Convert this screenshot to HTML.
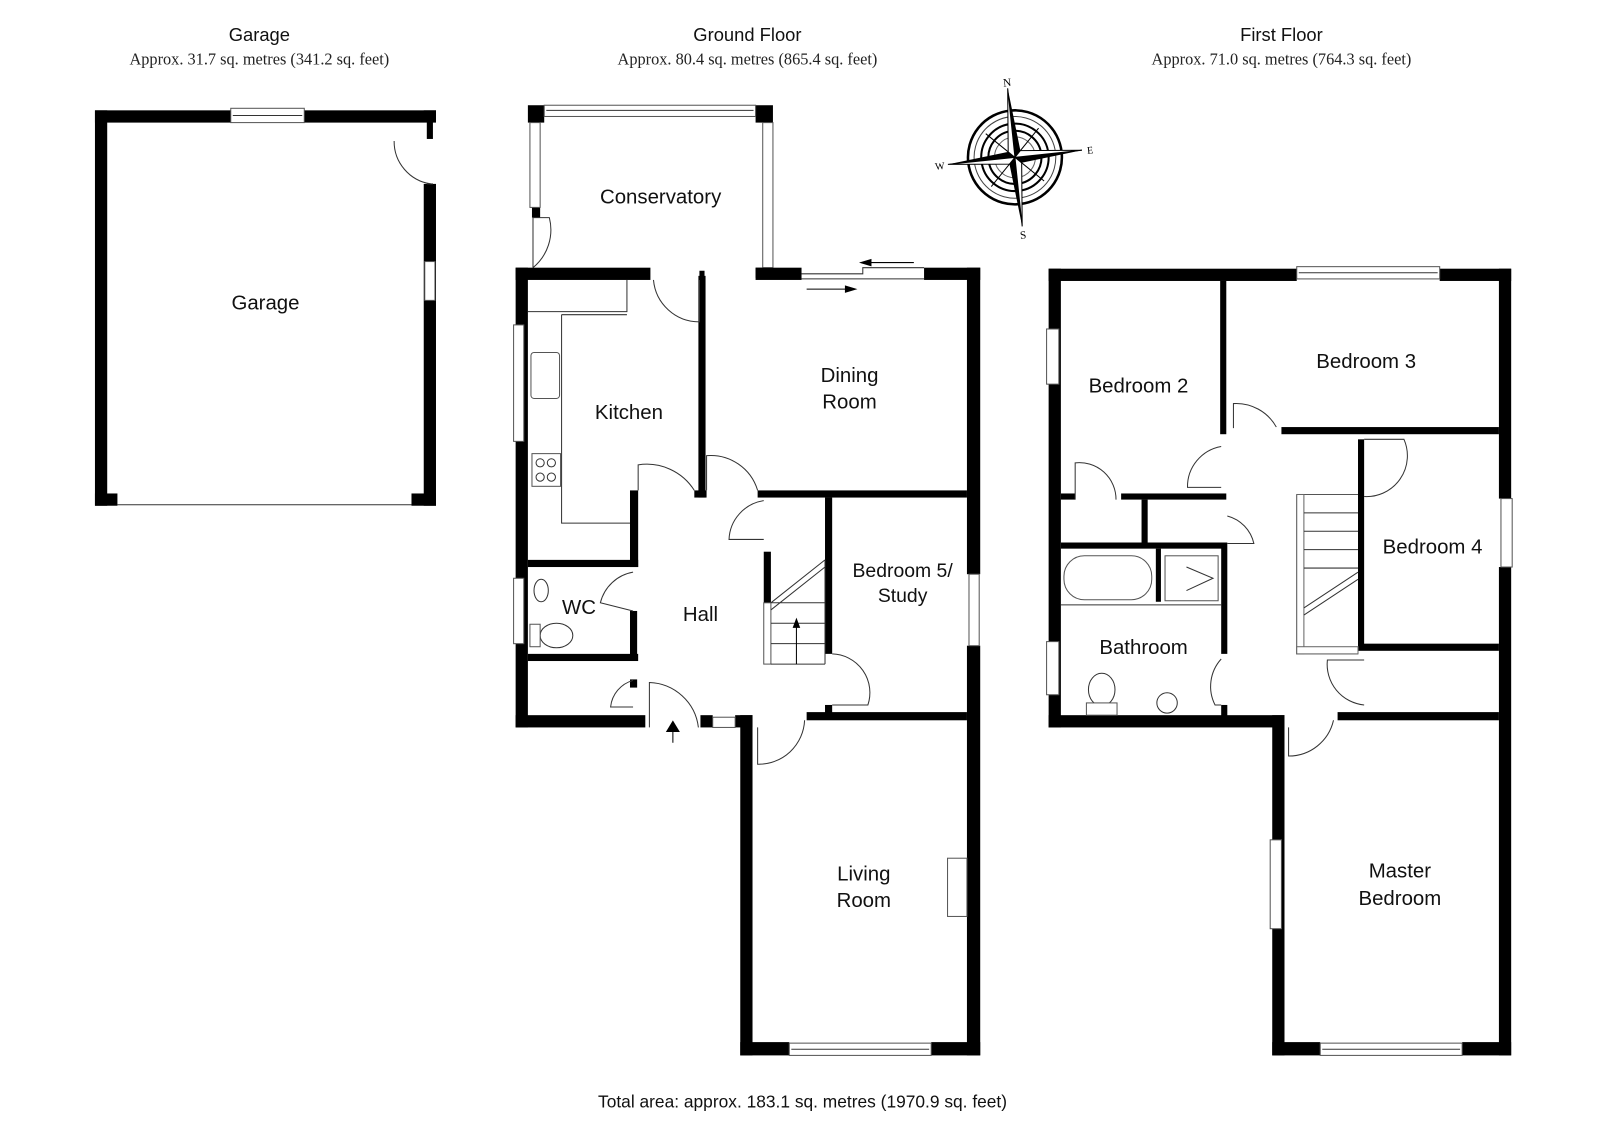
<!DOCTYPE html>
<html><head><meta charset="utf-8"><style>
html,body{margin:0;padding:0;background:#fff;width:1600px;height:1131px;overflow:hidden}
svg{display:block}
.t{font-family:"Liberation Sans",sans-serif;font-size:20px;fill:#111;text-anchor:middle}
.s{font-family:"Liberation Serif",serif;font-size:16px;fill:#222;text-anchor:middle}
.w{fill:#000}
.ln{fill:none;stroke:#333;stroke-width:1}
.win{fill:#fff;stroke:#555;stroke-width:1}
</style></head><body>
<svg width="1600" height="1131" viewBox="0 0 1567 1107" preserveAspectRatio="none" xmlns="http://www.w3.org/2000/svg">
<rect width="1567" height="1107" fill="#fff"/>
<text class="t" x="254" y="40" style="font-size:18px">Garage</text>
<text class="s" x="254" y="63">Approx. 31.7 sq. metres (341.2 sq. feet)</text>
<text class="t" x="732" y="40" style="font-size:18px">Ground Floor</text>
<text class="s" x="732" y="63">Approx. 80.4 sq. metres (865.4 sq. feet)</text>
<text class="t" x="1255" y="40" style="font-size:18px">First Floor</text>
<text class="s" x="1255" y="63">Approx. 71.0 sq. metres (764.3 sq. feet)</text>
<text class="t" x="786" y="1084" style="font-size:17px">Total area: approx. 183.1 sq. metres (1970.9 sq. feet)</text>

<!-- GARAGE -->
<g class="w">
<rect x="93" y="108" width="334" height="12"/>
<rect x="93" y="108" width="12" height="387"/>
<rect x="415" y="108" width="12" height="8"/>
<rect x="418" y="116" width="6" height="20"/>
<rect x="415" y="180" width="12" height="315"/>
<rect x="403" y="483" width="24" height="12"/>
<rect x="93" y="483" width="22" height="12"/>
</g>
<rect class="win" x="226" y="106" width="72" height="14"/>
<line class="ln" x1="228" y1="113" x2="296" y2="113"/>
<rect class="win" x="416" y="256" width="10" height="38"/>
<line class="ln" x1="115" y1="494" x2="403" y2="494"/>
<path class="ln" d="M418 180 L424 180"/>
<path class="ln" d="M386 138 A42 42 0 0 0 422 180"/>
<text class="t" x="260" y="303">Garage</text>

<!-- CONSERVATORY -->
<g class="w">
<rect x="517" y="103" width="16" height="17"/>
<rect x="740" y="103" width="17" height="17"/>
<rect x="521" y="203" width="8" height="10"/>
<rect x="740" y="262" width="17" height="10"/>
</g>
<rect class="win" x="533" y="103" width="207" height="11"/>
<line class="ln" x1="535" y1="108" x2="738" y2="108"/>
<rect class="win" x="519" y="120" width="10" height="83"/>
<rect class="win" x="747" y="120" width="10" height="142"/>
<path class="ln" d="M522 262 L522 213 L538 213 A48 48 0 0 1 522 262"/>
<text class="t" x="647" y="199">Conservatory</text>

<!-- GROUND FLOOR -->
<g class="w">
<rect x="505" y="262" width="132" height="12"/>
<rect x="685" y="265" width="5" height="9"/>
<rect x="740" y="262" width="45" height="12"/>
<rect x="905" y="262" width="55" height="12"/>
<rect x="505" y="262" width="12" height="450"/>
<rect x="947" y="262" width="13" height="300"/>
<rect x="947" y="632" width="13" height="401"/>
<rect x="505" y="700" width="127" height="12"/>
<rect x="686" y="700" width="12" height="12"/>
<rect x="720" y="700" width="17" height="12"/>
<rect x="725" y="700" width="12" height="333"/>
<rect x="725" y="1020" width="48" height="13"/>
<rect x="912" y="1020" width="48" height="13"/>
<rect x="790" y="697" width="157" height="8"/>
<rect x="684" y="270" width="7" height="217"/>
<rect x="742" y="480" width="205" height="7"/>
<rect x="680" y="480" width="12" height="7"/>
<rect x="617" y="480" width="8" height="75"/>
<rect x="517" y="548" width="108" height="7"/>
<rect x="617" y="598" width="7" height="47"/>
<rect x="517" y="640" width="108" height="7"/>
<rect x="617" y="665" width="7" height="8"/>
<rect x="748" y="540" width="7" height="50"/>
<rect x="808" y="487" width="7" height="153"/>
<rect x="808" y="690" width="7" height="10"/>
</g>
<rect class="win" x="503" y="318" width="10" height="114"/>
<rect class="win" x="503" y="566" width="10" height="64"/>
<rect class="win" x="949" y="562" width="10" height="70"/>
<rect class="win" x="773" y="1021" width="139" height="12"/>
<line class="ln" x1="775" y1="1027" x2="910" y2="1027"/>
<rect class="win" x="698" y="702" width="22" height="10"/>
<path class="ln" d="M785 268 H845 V262 H905 M785 273 H905"/>
<path d="M843 257 H895 M843 257 l10 -3 v6 z" stroke="#000" fill="#000" stroke-width="1"/>
<path d="M790 283 H838 M838 283 l-10 -3 v6 z" stroke="#000" fill="#000" stroke-width="1"/>
<path class="ln" d="M517 305 H614 V274 M550 308 H614 M550 308 V512 H617"/>
<rect class="win" x="520" y="345" width="28" height="45" rx="3"/>
<rect class="win" x="521" y="444" width="28" height="32"/>
<circle class="ln" cx="529" cy="453" r="4"/><circle class="ln" cx="540" cy="453" r="4"/>
<circle class="ln" cx="529" cy="467" r="4"/><circle class="ln" cx="540" cy="467" r="4"/>
<ellipse class="ln" cx="530" cy="578" rx="7" ry="11"/>
<ellipse class="ln" cx="545" cy="622" rx="16" ry="12"/>
<rect class="win" x="519" y="611" width="10" height="22"/>
<text class="t" x="567" y="601">WC</text>
<path class="ln" d="M640 274 A45 45 0 0 0 685 315 L685 274"/>
<path class="ln" d="M625 480 V455 A55 55 0 0 1 680 480"/>
<path class="ln" d="M692 480 V446 A48 48 0 0 1 742 480"/>
<path class="ln" d="M748 490 A40 40 0 0 0 714 528 H748"/>
<path class="ln" d="M620 560 A40 40 0 0 0 588 590 L620 598"/>
<path class="ln" d="M620 666 A30 30 0 0 0 598 692 H620"/>
<path class="ln" d="M636 712 V668 A50 50 0 0 1 684 712"/>
<path class="ln" d="M742 712 V748 A45 45 0 0 0 788 705"/>
<path class="ln" d="M815 640 A38 38 0 0 1 850 690 H815"/>
<rect x="748" y="590" width="7" height="60" fill="#fff" stroke="#555" stroke-width="1"/>
<path class="ln" d="M755 590 L808 548 M755 597 L808 555 M755 590 H808 M755 610 H808 M755 630 H808 M755 650 H808 M808 548 V650"/>
<path d="M780 650 V612 M780 606 l-3 8 h6 z" stroke="#000" fill="#000" stroke-width="1"/>
<path d="M659 727 V716 h-6 l6 -10 l6 10 h-6" fill="#000" stroke="#000"/>
<rect class="win" x="928" y="840" width="19" height="57"/>
<text class="t" x="616" y="410">Kitchen</text>
<text class="t" x="832" y="374">Dining</text>
<text class="t" x="832" y="400">Room</text>
<text class="t" x="884" y="565" style="font-size:19px">Bedroom 5/</text>
<text class="t" x="884" y="589" style="font-size:19px">Study</text>
<text class="t" x="686" y="608">Hall</text>
<text class="t" x="846" y="862">Living</text>
<text class="t" x="846" y="888">Room</text>

<!-- FIRST FLOOR -->
<g class="w">
<rect x="1027" y="263" width="243" height="12"/>
<rect x="1410" y="263" width="70" height="12"/>
<rect x="1027" y="263" width="12" height="449"/>
<rect x="1468" y="263" width="12" height="225"/>
<rect x="1468" y="555" width="12" height="478"/>
<rect x="1027" y="700" width="231" height="12"/>
<rect x="1246" y="700" width="12" height="333"/>
<rect x="1246" y="1020" width="47" height="13"/>
<rect x="1432" y="1020" width="48" height="13"/>
<rect x="1310" y="697" width="158" height="8"/>
<rect x="1195" y="275" width="6" height="150"/>
<rect x="1255" y="418" width="213" height="7"/>
<rect x="1330" y="430" width="6" height="206"/>
<rect x="1330" y="630" width="138" height="7"/>
<rect x="1039" y="483" width="14" height="6"/>
<rect x="1098" y="483" width="103" height="6"/>
<rect x="1118" y="489" width="6" height="46"/>
<rect x="1039" y="531" width="162" height="6"/>
<rect x="1196" y="531" width="6" height="109"/>
<rect x="1196" y="690" width="6" height="12"/>
<rect x="1132" y="537" width="5" height="52"/>
</g>
<rect class="win" x="1270" y="261" width="140" height="12"/>
<line class="ln" x1="1272" y1="267" x2="1408" y2="267"/>
<rect class="win" x="1025" y="322" width="12" height="54"/>
<rect class="win" x="1025" y="628" width="12" height="52"/>
<rect class="win" x="1470" y="488" width="11" height="67"/>
<rect class="win" x="1244" y="822" width="11" height="87"/>
<rect class="win" x="1293" y="1021" width="139" height="12"/>
<line class="ln" x1="1295" y1="1027" x2="1430" y2="1027"/>
<rect class="win" x="1042" y="544" width="86" height="43" rx="20"/>
<rect class="win" x="1141" y="544" width="52" height="44"/>
<path class="ln" d="M1162 555 L1188 566 L1162 578"/>
<line class="ln" x1="1039" y1="592" x2="1196" y2="592"/>
<ellipse class="ln" cx="1079" cy="675" rx="13" ry="16"/>
<rect class="win" x="1064" y="688" width="30" height="12"/>
<circle class="ln" cx="1143" cy="688" r="10"/>
<path class="ln" d="M1053 489 V453 A36 36 0 0 1 1093 489"/>
<path class="ln" d="M1208 419 V395 A45 45 0 0 1 1250 418"/>
<path class="ln" d="M1196 437 A40 40 0 0 0 1163 477 H1196"/>
<path class="ln" d="M1202 505 A36 36 0 0 1 1228 532 H1202"/>
<path class="ln" d="M1336 430 H1375 A40 40 0 0 1 1336 486"/>
<path class="ln" d="M1196 645 A40 40 0 0 0 1190 690 H1196"/>
<path class="ln" d="M1336 646 H1300 A40 40 0 0 0 1336 690"/>
<path class="ln" d="M1262 712 V740 A45 45 0 0 0 1306 705"/>
<path d="M1270 484 H1330 M1270 484 V640 H1330" fill="none" stroke="#555"/>
<rect x="1270" y="484" width="7" height="156" fill="#fff" stroke="#666"/>
<rect x="1270" y="633" width="60" height="7" fill="#fff" stroke="#666"/>
<path class="ln" d="M1277 502 H1330 M1277 520 H1330 M1277 538 H1330 M1277 556 H1330 M1277 595 L1330 560 M1277 602 L1330 567"/>
<text class="t" x="1115" y="384">Bedroom 2</text>
<text class="t" x="1338" y="360">Bedroom 3</text>
<text class="t" x="1403" y="542">Bedroom 4</text>
<text class="t" x="1120" y="640">Bathroom</text>
<text class="t" x="1371" y="859">Master</text>
<text class="t" x="1371" y="886">Bedroom</text>

<!-- COMPASS -->
<g transform="translate(994 154) rotate(-6)">
<circle r="46" fill="none" stroke="#000" stroke-width="2.5"/>
<circle r="40" fill="none" stroke="#444" stroke-width="1"/>
<circle r="33" fill="none" stroke="#000" stroke-width="2"/>
<circle r="26" fill="none" stroke="#000" stroke-width="2"/>
<circle r="20" fill="none" stroke="#666" stroke-width="1"/>
<g fill="#fff" stroke="#000" stroke-width="1">
<path d="M0 0 L26 -26 L4 -4 Z M0 0 L26 26 L4 4Z M0 0 L-26 26 L-4 4Z M0 0 L-26 -26 L-4 -4Z"/>
</g>
<path d="M0 -68 L6 -6 L0 0 Z M0 68 L-6 6 L0 0Z M66 0 L6 6 L0 0Z M-66 0 L-6 -6 L0 0Z" fill="#000"/>
<path d="M0 -68 L-6 -6 L0 0 Z M0 68 L6 6 L0 0Z M66 0 L6 -6 L0 0Z M-66 0 L-6 6 L0 0Z" fill="#fff" stroke="#000"/>
<text x="0" y="-70" style="font-family:'Liberation Serif',serif;font-size:11px;text-anchor:middle">N</text>
<text x="0" y="80" style="font-family:'Liberation Serif',serif;font-size:11px;text-anchor:middle">S</text>
<text x="74" y="4" style="font-family:'Liberation Serif',serif;font-size:10px;text-anchor:middle">E</text>
<text x="-74" y="4" style="font-family:'Liberation Serif',serif;font-size:10px;text-anchor:middle">W</text>
</g>
</svg>
</body></html>
